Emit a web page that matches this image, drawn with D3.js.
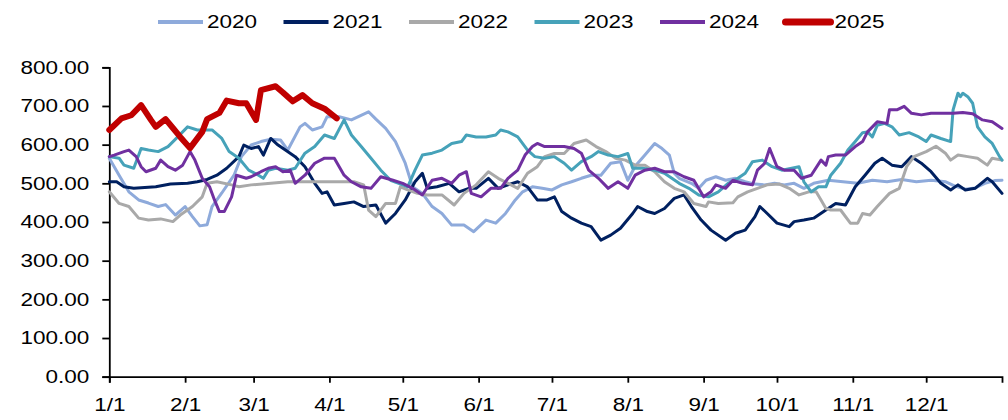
<!DOCTYPE html>
<html>
<head>
<meta charset="utf-8">
<script src="https://cdn.jsdelivr.net/npm/d3@7"></script>
<style>
  body { margin: 0; background: #fff; }
  text { font-family: "Liberation Sans", Arial, sans-serif; fill: #000; }
</style>
</head>
<body>
<div id="chart"></div>
<script>
// Подписи и значения: [день года, значение]
const years = ["2020", "2021", "2022", "2023", "2024", "2025"];
const monthDays = [0, 31, 59, 90, 120, 151, 181, 212, 243, 273, 304, 334];
const monthLabels = ["1/1", "2/1", "3/1", "4/1", "5/1", "6/1", "7/1", "8/1", "9/1", "10/1", "11/1", "12/1"];
const yTicks = [0, 100, 200, 300, 400, 500, 600, 700, 800];

const s2020 = [[0,565],[4,521],[8,478],[12,457],[16,449],[20,440],[23,445],[27,418],[31,440],[34,414],[37,390],[40,393],[42,440],[46,475],[51,521],[54,569],[58,599],[62,608],[66,614],[70,612],[73,586],[78,646],[80,655],[83,638],[87,646],[89,672],[94,672],[99,664],[106,685],[109,666],[113,642],[117,608],[121,552],[124,491],[128,474],[132,440],[136,422],[140,392],[145,392],[149,375],[154,405],[158,397],[162,422],[166,457],[169,478],[173,491],[177,487],[181,483],[185,496],[189,504],[193,513],[197,521],[201,521],[205,552],[209,556],[212,508],[215,544],[219,573],[223,603],[226,590],[229,573],[231,526],[233,513],[238,500],[241,487],[244,508],[248,517],[252,508],[256,513],[260,504],[264,498],[268,496],[272,500],[276,496],[280,500],[284,487],[288,500],[294,508],[300,504],[306,500],[312,508],[318,504],[324,510],[330,504],[336,508],[342,504],[346,492],[350,485],[354,488],[358,500],[362,507],[365,508]];
const s2021 = [[0,504],[3,504],[6,491],[10,487],[19,491],[25,498],[32,500],[36,504],[40,510],[44,521],[48,539],[53,569],[55,599],[58,590],[61,595],[63,573],[66,616],[69,599],[72,586],[76,569],[80,543],[84,500],[87,474],[89,478],[92,444],[96,448],[100,452],[104,440],[109,444],[113,397],[117,422],[121,457],[125,504],[128,526],[130,487],[134,491],[139,500],[143,478],[147,487],[150,487],[155,513],[159,487],[163,496],[167,504],[171,491],[175,457],[179,457],[182,465],[185,427],[189,410],[193,397],[197,388],[201,353],[205,366],[209,384],[214,422],[216,440],[220,427],[223,422],[227,435],[231,461],[235,470],[238,440],[242,405],[246,379],[252,353],[256,371],[260,379],[264,414],[266,440],[269,422],[273,397],[278,388],[280,401],[284,405],[288,410],[293,431],[297,448],[301,444],[305,491],[309,521],[313,552],[316,565],[320,547],[324,543],[328,569],[332,552],[336,530],[340,500],[344,483],[347,496],[350,483],[354,487],[359,513],[361,504],[365,474]];
const s2022 = [[0,478],[4,448],[8,440],[12,410],[16,405],[21,408],[26,401],[29,418],[34,440],[38,465],[40,500],[44,504],[50,496],[53,491],[58,496],[66,500],[73,504],[80,504],[90,504],[100,504],[104,496],[106,431],[109,414],[113,448],[117,448],[119,491],[122,483],[126,474],[130,470],[136,470],[141,444],[145,474],[150,496],[155,530],[159,513],[163,500],[167,487],[171,526],[175,543],[178,569],[182,577],[186,577],[190,603],[195,612],[199,595],[203,582],[207,565],[211,560],[215,547],[219,547],[223,530],[227,504],[231,487],[235,478],[239,448],[244,440],[245,452],[249,448],[255,450],[257,465],[261,478],[265,487],[269,496],[274,498],[278,487],[282,470],[286,478],[289,478],[291,457],[293,435],[295,431],[299,431],[303,397],[306,397],[308,422],[311,418],[314,440],[319,474],[323,487],[326,543],[329,569],[334,582],[338,596],[342,577],[344,560],[347,573],[351,569],[355,565],[359,547],[361,565],[365,560]];
const s2023 = [[0,569],[4,565],[6,547],[10,539],[13,590],[16,586],[20,582],[24,595],[28,620],[32,646],[36,638],[39,638],[42,638],[46,616],[49,582],[53,565],[57,534],[61,521],[63,513],[65,534],[68,539],[73,534],[76,539],[80,578],[84,595],[88,625],[92,616],[96,664],[99,625],[103,595],[107,565],[111,534],[115,508],[120,496],[122,491],[125,534],[128,573],[132,578],[136,586],[140,603],[144,608],[146,625],[150,620],[154,620],[158,625],[160,638],[163,633],[167,620],[171,586],[174,569],[178,565],[182,569],[186,552],[189,534],[193,556],[197,569],[200,582],[204,573],[208,569],[212,577],[214,539],[218,539],[223,534],[227,526],[233,500],[237,487],[241,470],[245,465],[249,478],[253,500],[257,513],[260,526],[263,556],[267,560],[271,543],[275,534],[279,539],[282,543],[284,504],[287,478],[290,491],[293,491],[295,521],[299,552],[302,586],[305,608],[308,631],[310,633],[312,620],[314,650],[317,655],[320,646],[323,625],[327,631],[331,620],[334,608],[336,625],[340,616],[344,608],[345,690],[347,733],[348,724],[349,733],[351,724],[353,707],[355,646],[358,620],[361,603],[364,569],[365,560]];
const s2024 = [[0,569],[2,573],[6,582],[8,586],[11,569],[13,543],[15,530],[19,539],[21,560],[24,543],[27,534],[30,547],[33,582],[35,560],[38,513],[41,491],[43,457],[45,427],[47,427],[50,465],[52,521],[56,513],[58,517],[62,530],[65,539],[68,543],[71,530],[74,534],[76,500],[80,521],[84,552],[88,565],[92,565],[96,521],[99,504],[103,491],[107,487],[111,517],[116,508],[120,500],[124,487],[128,470],[132,508],[136,513],[140,500],[143,521],[146,530],[148,474],[152,465],[156,487],[160,487],[163,513],[167,534],[170,573],[173,595],[175,603],[178,595],[182,595],[186,595],[190,590],[193,578],[196,534],[200,513],[204,487],[208,504],[212,487],[215,521],[219,534],[223,539],[227,530],[231,530],[235,517],[239,508],[243,465],[246,478],[248,496],[252,487],[255,508],[259,500],[263,496],[265,534],[268,552],[270,590],[273,543],[276,534],[280,534],[283,513],[287,521],[291,560],[293,547],[294,569],[297,573],[301,573],[305,595],[308,608],[310,633],[314,659],[318,655],[319,690],[322,690],[325,699],[328,681],[332,677],[336,681],[340,681],[345,681],[349,683],[353,680],[357,664],[361,659],[365,642]];
const s2025 = [[0,638],[5,668],[9,676],[13,702],[17,664],[19,646],[23,666],[26,643],[29,620],[33,591],[38,633],[40,666],[45,682],[48,714],[53,707],[56,707],[60,664],[62,741],[68,751],[71,735],[75,712],[79,728],[83,707],[88,693],[93,668]];

const seriesData = [s2020, s2021, s2022, s2023, s2024, s2025];
const colors = ["#8eaadb", "#002060", "#a9a9a9", "#46a2b9", "#7030a0", "#c00000"];
const widths = [3, 3, 3, 3, 3, 6];

function draw_chart(id) {
    const W = 1008, H = 420;
    const sx = 1.25; // горизонтальное растяжение текста
    const svg = d3.select("#" + id)
        .append("svg")
        .attr("width", W)
        .attr("height", H);

    // Шкалы
    const xScale = d3.scaleLinear().domain([0, 365]).range([109.3, 1002]);
    const yScale = d3.scaleLinear().domain([0, 800]).range([376.7, 67.3]);

    // Ось Y
    const yAxis = svg.append("g")
        .attr("transform", `translate(${xScale(0)},0)`)
        .call(d3.axisLeft(yScale).tickValues(yTicks).tickFormat(d3.format(".2f")).tickSize(7).tickPadding(9));
    yAxis.selectAll("text").attr("transform", `scale(${sx},1)`);

    // Ось X
    const xAxis = svg.append("g")
        .attr("transform", `translate(0,${yScale(0)})`)
        .call(d3.axisBottom(xScale).tickValues(monthDays).tickFormat((d, i) => monthLabels[i]).tickSize(6).tickPadding(16));
    xAxis.selectAll("text").attr("transform", `scale(${sx},1)`);

    [yAxis, xAxis].forEach(ax => {
        ax.select(".domain").attr("stroke", "#000").attr("stroke-width", 1.8);
        ax.selectAll(".tick line").attr("stroke", "#000").attr("stroke-width", 1.8);
        ax.selectAll("text").attr("font-size", 18).attr("font-family", "Liberation Sans, Arial, sans-serif").attr("fill", "#000");
    });

    // Линии
    const line = d3.line()
        .x(d => xScale(d[0]))
        .y(d => yScale(d[1]));
    seriesData.forEach((data, i) => {
        svg.append("path")
            .datum(data)
            .attr("d", line)
            .attr("fill", "none")
            .attr("stroke", colors[i])
            .attr("stroke-width", widths[i])
            .attr("stroke-linejoin", "round")
            .attr("stroke-linecap", "round");
    });

    // Легенда
    const legend = svg.append("g");
    years.forEach((y, i) => {
        const g = legend.append("g").attr("transform", `translate(${158 + i * 125.5},22)`);
        g.append("line")
            .attr("x1", 0).attr("x2", 45)
            .attr("stroke", colors[i])
            .attr("stroke-width", i == 5 ? 7 : 4)
            .attr("stroke-linecap", i == 5 ? "round" : "butt");
        g.append("text")
            .attr("transform", `scale(${sx},1)`)
            .attr("x", 49 / sx)
            .attr("dy", "0.35em")
            .attr("font-size", 18)
            .text(y);
    });
}

draw_chart("chart");
</script>
</body>
</html>
